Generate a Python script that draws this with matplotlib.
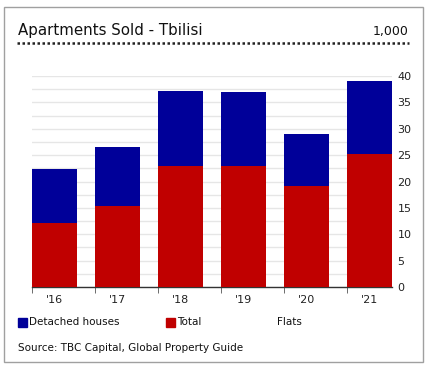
import matplotlib
matplotlib.use('Agg')
import matplotlib.pyplot as plt
from matplotlib.patches import Rectangle
import numpy as np

# Data (thousands of units)
years = ["'16", "'17", "'18", "'19", "'20", "'21"]
total_red = [12.1, 15.4, 23.0, 23.0, 19.1, 25.3]
detached_blue = [10.3, 11.2, 14.1, 13.9, 9.9, 13.8]
legend_labels = ['Detached houses', 'Total', 'Flats']
title = 'Apartments Sold - Tbilisi'
unit = '1,000'
source = 'Source: TBC Capital, Global Property Guide'

blue = '#000099'
red = '#c00000'
W, H = 433, 375
my_dpi = 100

plt.rcParams['font.family'] = 'DejaVu Sans'
fig = plt.figure(figsize=(W / my_dpi, H / my_dpi), dpi=my_dpi)

# outer frame
fig.patches.append(Rectangle((4 / W, 1 - 362 / H), 419 / W, 355 / H,
                             transform=fig.transFigure, fill=False,
                             edgecolor='#a0a0a0', linewidth=1.0))

# title row
fig.text(18 / W, 1 - 31 / H, title, fontsize=10.8, va='center', ha='left', color='#111111')
fig.text(409 / W, 1 - 31 / H, unit, fontsize=9, va='center', ha='right', color='#111111')
fig.add_artist(plt.Line2D([17 / W, 409 / W], [1 - 43 / H, 1 - 43 / H],
                          transform=fig.transFigure, color='#222222',
                          linestyle=(0, (1, 1.0)), linewidth=1.8))

# plot area
ax = fig.add_axes([32 / W, 1 - 287 / H, 360 / W, 211 / H])
x = np.arange(len(years))
width = 0.71
ax.bar(x, total_red, width=width, align='edge', color=red, zorder=3)
ax.bar(x, detached_blue, width=width, bottom=total_red, align='edge', color=blue, zorder=3)

ax.set_xlim(0, len(years) - 1 + width)
ax.set_ylim(0, 40)
ax.set_yticks(np.arange(0, 41, 5))
ax.set_yticks(np.arange(0, 41, 2.5), minor=True)
ax.yaxis.tick_right()
ax.tick_params(axis='y', which='both', length=0, pad=4, labelsize=8, labelcolor='#222222')
ax.grid(axis='y', which='both', color='#e6e6e6', linewidth=1, zorder=0)

ax.set_xticks(x + width / 2)
ax.set_xticklabels(years)
ax.set_xticks(x, minor=True)
ax.tick_params(axis='x', which='major', length=0, pad=6, labelsize=8, labelcolor='#222222')
ax.tick_params(axis='x', which='minor', length=4, color='#555555', direction='out')

for s in ['top', 'right', 'left']:
    ax.spines[s].set_visible(False)
ax.spines['bottom'].set_color('#333333')
ax.spines['bottom'].set_linewidth(1)

# legend row
ly = 1 - 322 / H
fig.patches.append(Rectangle((18 / W, ly - 4.5 / H), 9 / W, 9 / H,
                             transform=fig.transFigure, color=blue))
fig.text(29 / W, ly, legend_labels[0], fontsize=7.5, va='center', ha='left', color='#111111')
fig.patches.append(Rectangle((166 / W, ly - 4.5 / H), 9 / W, 9 / H,
                             transform=fig.transFigure, color=red))
fig.text(177 / W, ly, legend_labels[1], fontsize=7.5, va='center', ha='left', color='#111111')
fig.text(277 / W, ly, legend_labels[2], fontsize=7.5, va='center', ha='left', color='#111111')

fig.text(18 / W, 1 - 348 / H, source, fontsize=7.5, va='center', ha='left', color='#111111')

fig.savefig('out.png', dpi=my_dpi)
